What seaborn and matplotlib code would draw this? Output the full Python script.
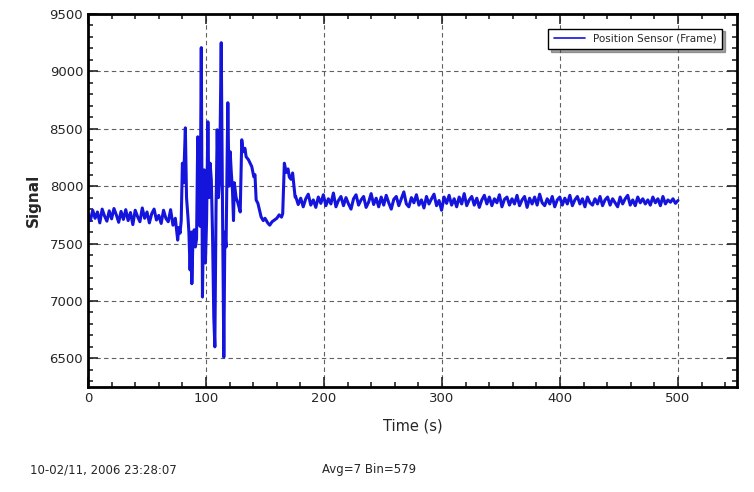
import numpy as np
import pandas as pd
import matplotlib
matplotlib.use("Agg")
import matplotlib.pyplot as plt
from matplotlib.ticker import MultipleLocator
import seaborn as sns

# ---- data ----
pre_vals = [7760, 7700, 7790, 7720, 7775, 7680, 7800, 7740, 7695, 7785,
            7715, 7805, 7750, 7685, 7780, 7710, 7795, 7700, 7770, 7665,
            7790, 7735, 7690, 7810, 7720, 7775, 7680, 7760, 7800, 7705,
            7745, 7675, 7790, 7720, 7690, 7795, 7660, 7720]

burst_t = [76, 77, 78, 79, 80, 81, 82.5, 83.5, 84.7, 85.5, 86.5, 87.5, 88, 89, 90, 91,
           92, 93, 94, 95, 96, 97, 97.7, 98.5, 99.5, 100.5, 101.6, 102.5, 103.5,
           104.5, 105.5, 106.6, 107.5, 108.5, 109.5, 110.5, 111.5, 112.9, 114,
           115.1, 116, 117, 118.5, 119.5, 120.5, 121.3, 122.5, 123.3, 124, 125.5,
           127, 129, 130.3, 131.5, 133, 134, 136, 138.8, 140.5, 141.5, 142.5, 144,
           146.7, 148.5, 150, 152.3, 154, 156, 158, 160, 162, 164, 165, 166.4, 168,
           169.5, 170.6, 172, 173.4, 174.5, 175.5]
burst_vals = [7530, 7640, 7590, 7700, 8200, 8030, 8508, 7900, 7732, 7600, 7270, 7600,
              7150, 7560, 7620, 7470, 7540, 8430, 7800, 7650, 9207, 7034, 7600, 8142,
              7330, 7700, 8561, 7900, 8200, 8055, 7600, 6860, 6600, 7800, 8491, 7900,
              8055, 9250, 7800, 6510, 7600, 7470, 8727, 8000, 8300, 8142, 7950, 7700,
              8030, 7900, 7855, 7775, 8404, 8300, 8330, 8256, 8230, 8170, 8082, 8100,
              7880, 7850, 7732, 7700, 7720, 7680, 7660, 7690, 7705, 7720, 7750, 7730,
              7760, 8200, 8120, 8150, 8080, 8060, 8115, 8000, 7905]

post_vals = [7910, 7840, 7895, 7820, 7890, 7930, 7835, 7880, 7815, 7905,
             7850, 7925, 7830, 7890, 7845, 7940, 7820, 7875, 7910, 7830,
             7900, 7845, 7800, 7890, 7925, 7835, 7880, 7910, 7815, 7860,
             7935, 7840, 7895, 7820, 7905, 7835, 7920, 7855, 7800, 7885,
             7910, 7830, 7890, 7950, 7845, 7820, 7900, 7855, 7925, 7835,
             7880, 7810, 7910, 7845, 7890, 7930, 7830, 7875, 7790, 7905,
             7850, 7920, 7835, 7890, 7820, 7905, 7845, 7935, 7830, 7880,
             7910, 7835, 7895, 7815, 7880, 7920, 7845, 7905, 7830, 7890,
             7855, 7925, 7820, 7885, 7905, 7835, 7890, 7845, 7920, 7830,
             7880, 7910, 7815, 7895, 7845, 7905, 7835, 7930, 7855, 7830,
             7890, 7845, 7910, 7820, 7880, 7905, 7835, 7895, 7845, 7920,
             7830, 7880, 7910, 7845, 7890, 7820, 7905, 7855, 7835, 7890,
             7845, 7910, 7830, 7880, 7905, 7835, 7890, 7855, 7820, 7905,
             7845, 7890, 7920, 7835, 7880, 7830, 7905, 7855, 7890, 7845,
             7880, 7835, 7905, 7855, 7890, 7830, 7910, 7845, 7880, 7860,
             7890, 7850, 7875]

x_ticks = [0, 100, 200, 300, 400, 500]
y_ticks = [6500, 7000, 7500, 8000, 8500, 9000, 9500]
series_name = "Position Sensor (Frame)"
footer_left = "10-02/11, 2006 23:28:07"
footer_mid = "Avg=7 Bin=579"

# sample times (regular sampling in the quiet parts)
t_pre = np.linspace(0, 74, len(pre_vals))
t_post = np.linspace(176, 500, len(post_vals))

df = pd.DataFrame({
    "Time": np.concatenate([t_pre, burst_t, t_post]),
    "Signal": np.concatenate([pre_vals, burst_vals, post_vals]),
})

sns.set_style("ticks")
plt.rcParams["font.family"] = ["DejaVu Sans"]

fig = plt.figure(figsize=(7.54, 4.92), dpi=100)
ax = fig.add_axes([88 / 754, 1 - 387 / 492, (737 - 88) / 754, (387 - 14) / 492])

sns.lineplot(data=df, x="Time", y="Signal", ax=ax, color="#1414dc", lw=2.2,
             sort=False, estimator=None, label=series_name)

ax.set_xlim(0, 550)
ax.set_ylim(6250, 9500)
ax.set_xticks(x_ticks)
ax.set_yticks(y_ticks)
ax.xaxis.set_minor_locator(MultipleLocator(20))
ax.yaxis.set_minor_locator(MultipleLocator(100))
ax.tick_params(which="both", direction="in", top=True, right=True, width=1.2,
               labelsize=9.5)
ax.tick_params(which="major", length=7)
ax.tick_params(which="minor", length=3.5)
for s in ax.spines.values():
    s.set_linewidth(2)
    s.set_color("black")
ax.grid(True, which="major", ls=(0, (4, 3)), color="#606060", lw=0.8)

ax.set_xlabel("Time (s)", fontsize=10.5, labelpad=10)
ax.set_ylabel("Signal", fontsize=11, fontweight="bold", labelpad=6)

leg = ax.legend(loc="upper right", bbox_to_anchor=(0.985, 0.975), fontsize=7.5,
                frameon=True, fancybox=False, shadow=True, handlelength=3,
                borderpad=0.5)
leg.get_frame().set_edgecolor("black")
leg.get_frame().set_linewidth(1.0)
for line in leg.get_lines():
    line.set_linewidth(1.2)

fig.text(30 / 754, 1 - 470 / 492, footer_left, fontsize=8.5, va="center")
fig.text(322 / 754, 1 - 470 / 492, footer_mid, fontsize=8.5, va="center")

fig.savefig("out.png", dpi=100)
